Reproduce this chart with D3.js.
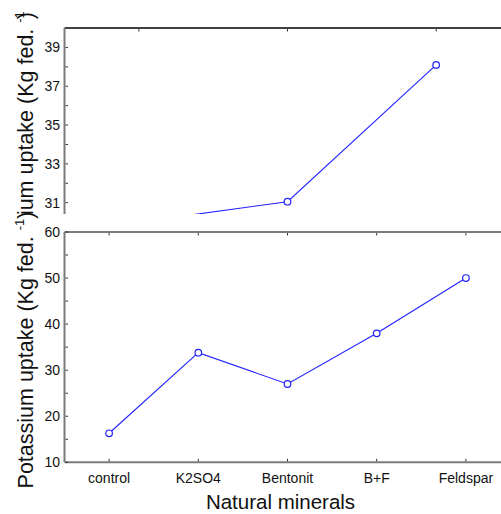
<!DOCTYPE html>
<html>
<head>
<meta charset="utf-8">
<script src="https://cdn.jsdelivr.net/npm/d3@7"></script>
<style>
  html, body { margin: 0; padding: 0; background: #fff; }
  svg { display: block; font-family: "Liberation Sans", Arial, sans-serif; }
</style>
</head>
<body>
<div id="chart"></div>
<script>
// upper (partly hidden) plot
const topCategories = ["control", "Bentonit", "Feldspar"];
const topValues = [30.0, 31.05, 38.1];
const topTicks = [31, 33, 35, 37, 39];

// lower plot
const categories = ["control", "K2SO4", "Bentonit", "B+F", "Feldspar"];
const values = [16.3, 33.8, 27.0, 38.0, 50.0];
const yTicks = [10, 20, 30, 40, 50, 60];

const width = 501, height = 514;
const left = 64.5, right = 510.5;
const lineColor = "#2222ff";
const axisGray = "#7a7a7a";

const svg = d3.select("#chart").append("svg")
  .attr("width", width)
  .attr("height", height);

svg.append("rect").attr("width", width).attr("height", height).attr("fill", "#fff");

function yLabel(g, cy, closeDx) {
  const t = g.append("text")
    .attr("transform", `translate(33,${cy}) rotate(-90)`)
    .attr("text-anchor", "middle")
    .attr("font-size", 21.5)
    .attr("fill", "#111");
  t.append("tspan").text("Potassium uptake (Kg fed. ");
  t.append("tspan").attr("font-size", 13).attr("dy", -9).text("-1");
  t.append("tspan").attr("dy", 9).attr("dx", closeDx).text(")");
}

function panel(g, cats, vals, domain, top, bottom, majors, minorStep, borderColor, borderW) {
  const x = d3.scalePoint().domain(cats).range([left, right]).padding(0.5);
  const y = d3.scaleLinear().domain(domain).range([bottom, top]);

  // frame
  g.append("line").attr("x1", left).attr("x2", right).attr("y1", top).attr("y2", top)
    .attr("stroke", borderColor).attr("stroke-width", borderW);
  g.append("line").attr("x1", left).attr("x2", left).attr("y1", top).attr("y2", bottom)
    .attr("stroke", axisGray).attr("stroke-width", 2);
  g.append("line").attr("x1", left).attr("x2", right).attr("y1", bottom).attr("y2", bottom)
    .attr("stroke", axisGray).attr("stroke-width", 2);

  // ticks (inside)
  const minors = d3.range(domain[0], domain[1] + 0.001, minorStep)
    .map(v => Math.round(v / minorStep) * minorStep)
    .filter(v => v >= domain[0] && v <= domain[1]);
  g.append("g").selectAll("line").data(minors).join("line")
    .attr("x1", left + 1).attr("x2", left + 3.5)
    .attr("y1", d => y(d)).attr("y2", d => y(d))
    .attr("stroke", "#333").attr("stroke-width", 1);
  g.append("g").selectAll("line").data(cats).join("line")
    .attr("x1", d => x(d)).attr("x2", d => x(d))
    .attr("y1", top + 1).attr("y2", top + 3.5)
    .attr("stroke", "#333").attr("stroke-width", 1);
  g.append("g").selectAll("line").data(cats).join("line")
    .attr("x1", d => x(d)).attr("x2", d => x(d))
    .attr("y1", bottom - 1).attr("y2", bottom - 3.5)
    .attr("stroke", "#333").attr("stroke-width", 1);

  g.append("g").selectAll("text").data(majors).join("text")
    .attr("x", 60)
    .attr("y", d => y(d) + 5)
    .attr("text-anchor", "end")
    .attr("font-size", 14)
    .attr("fill", "#111")
    .text(d => d);

  const line = d3.line().x((d, i) => x(cats[i])).y(d => y(d));
  g.append("path").datum(vals)
    .attr("d", line)
    .attr("fill", "none")
    .attr("stroke", lineColor)
    .attr("stroke-width", 1.1);
  g.append("g").selectAll("circle").data(vals).join("circle")
    .attr("cx", (d, i) => x(cats[i]))
    .attr("cy", d => y(d))
    .attr("r", 3.3)
    .attr("fill", "#fff")
    .attr("stroke", lineColor)
    .attr("stroke-width", 1.2);

  return { x, y };
}

// upper plot, mostly covered by the lower one
const topG = svg.append("g");
panel(topG, topCategories, topValues, [28.15, 40], 28, 258, topTicks, 1, "#000", 1.5);
yLabel(topG, 146, -8);

// white background of lower plot
svg.append("rect").attr("x", 0).attr("y", 214).attr("width", width).attr("height", height - 214)
  .attr("fill", "#fff");

const botG = svg.append("g");
const { x } = panel(botG, categories, values, [10, 60], 232, 462.3, yTicks, 5, axisGray, 2);
yLabel(botG, 350, 0);

botG.append("g").selectAll("text").data(categories).join("text")
  .attr("x", d => x(d))
  .attr("y", 483)
  .attr("text-anchor", "middle")
  .attr("font-size", 14)
  .attr("fill", "#111")
  .text(d => d);

botG.append("text")
  .attr("x", 280.5)
  .attr("y", 509)
  .attr("text-anchor", "middle")
  .attr("font-size", 20.5)
  .attr("fill", "#111")
  .text("Natural minerals");
</script>
</body>
</html>
